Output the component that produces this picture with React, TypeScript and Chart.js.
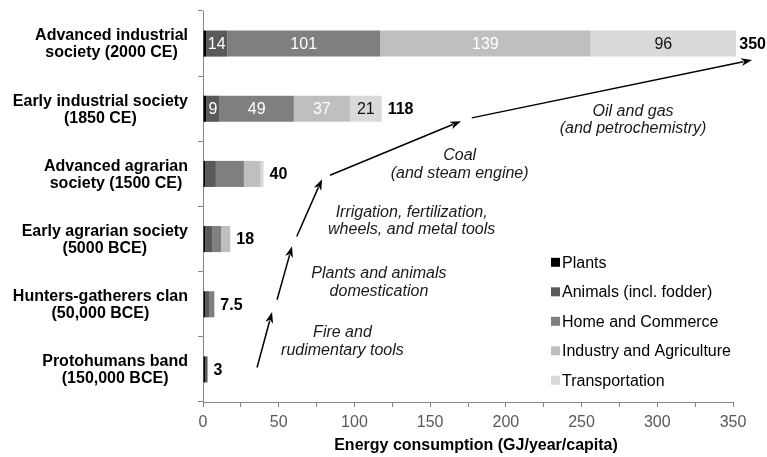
import React, { useEffect, useRef } from "react";
import { Chart, registerables } from "chart.js";

Chart.register(...registerables);

const FONT = "'Liberation Sans', Arial, Helvetica, sans-serif";

const categories: string[][] = [
  ["Advanced industrial", "society (2000 CE)"],
  ["Early industrial society", "(1850 CE)"],
  ["Advanced agrarian", "society (1500 CE)"],
  ["Early agrarian society", "(5000 BCE)"],
  ["Hunters-gatherers clan", "(50,000 BCE)"],
  ["Protohumans band", "(150,000 BCE)"],
];

const seriesNames = [
  "Plants",
  "Animals (incl. fodder)",
  "Home and Commerce",
  "Industry and Agriculture",
  "Transportation",
];
const seriesColors = ["#000000", "#595959", "#7f7f7f", "#bfbfbf", "#d9d9d9"];
const segLabelColors = ["#ffffff", "#ffffff", "#ffffff", "#ffffff", "#111111"];

const plants = [2, 2, 1.5, 1.5, 1.5, 1.5];
const animals = [14, 9, 7, 4.5, 2.5, 1.5];
const home = [101, 49, 18.5, 6, 3.5, 0];
const industry = [139, 37, 11, 6, 0, 0];
const transport = [96, 21, 2, 0, 0, 0];
const totals = ["350", "118", "40", "18", "7.5", "3"];
const labeledRows = [0, 1];

const xMin = 0;
const xMax = 350;
const xStep = 25;
const xLabelStep = 50;
const xTitle = "Energy consumption (GJ/year/capita)";

// arrows: [x1, row1, x2, row2] in data units (x value, category index)
const arrows: number[][] = [
  [35.7, 4.97, 45.6, 4.12],
  [48.9, 3.93, 58.8, 3.11],
  [61.9, 2.96, 78.6, 2.08],
  [83.9, 2.02, 170.4, 1.19],
  [177.5, 1.14, 362.6, 0.25],
];

const noteTexts: string[][] = [
  ["Fire and", "rudimentary tools"],
  ["Plants and animals", "domestication"],
  ["Irrigation, fertilization,", "wheels, and metal tools"],
  ["Coal", "(and steam engine)"],
  ["Oil and gas", "(and petrochemistry)"],
];
const noteX = [92.1, 116.2, 137.8, 169.5, 284];
const noteRow = [4.56, 3.65, 2.71, 1.84, 1.16];

const seriesData = [plants, animals, home, industry, transport];

const overlayPlugin = {
  id: "overlay",
  afterDatasetsDraw(chart: any) {
    const ctx: CanvasRenderingContext2D = chart.ctx;
    const xs = chart.scales.x;
    const ys = chart.scales.y;
    const area = chart.chartArea;
    ctx.save();

    // y category labels
    ctx.font = `bold 16px ${FONT}`;
    ctx.fillStyle = "#000";
    ctx.textBaseline = "middle";
    ctx.textAlign = "center";
    const labelRight = area.left - 15;
    categories.forEach((lines, i) => {
      const yc = ys.getPixelForValue(i);
      const widest = Math.max(...lines.map((l) => ctx.measureText(l).width));
      const cx = labelRight - widest / 2;
      const lh = 17;
      lines.forEach((l, k) => {
        ctx.fillText(l, cx, yc + (k - (lines.length - 1) / 2) * lh + 1);
      });
    });

    // segment value labels
    ctx.font = `16px ${FONT}`;
    labeledRows.forEach((row) => {
      let acc = 0;
      seriesData.forEach((arr, s) => {
        const v = arr[row];
        const x0 = xs.getPixelForValue(acc);
        acc += v;
        const x1 = xs.getPixelForValue(acc);
        if (s === 0 || v <= 0) return;
        ctx.fillStyle = segLabelColors[s];
        ctx.fillText(String(v), (x0 + x1) / 2, ys.getPixelForValue(row) + 1);
      });
    });

    // totals
    ctx.font = `bold 16px ${FONT}`;
    ctx.textAlign = "left";
    ctx.fillStyle = "#000";
    totals.forEach((t, row) => {
      const sum = seriesData.reduce((a, arr) => a + arr[row], 0);
      const w = ctx.measureText(t).width;
      let x = xs.getPixelForValue(sum) + 6;
      x = Math.min(x, chart.width - w - 1);
      ctx.fillText(t, x, ys.getPixelForValue(row) + 1);
    });

    // arrows
    ctx.strokeStyle = "#000";
    ctx.fillStyle = "#000";
    ctx.lineWidth = 1.5;
    arrows.forEach(([a, b, c, d]) => {
      const x1 = xs.getPixelForValue(a);
      const y1 = ys.getPixelForValue(b);
      const x2 = xs.getPixelForValue(c);
      const y2 = ys.getPixelForValue(d);
      const ang = Math.atan2(y2 - y1, x2 - x1);
      const hl = 11;
      const hw = 4;
      const bx = x2 - hl * Math.cos(ang);
      const by = y2 - hl * Math.sin(ang);
      ctx.beginPath();
      ctx.moveTo(x1, y1);
      ctx.lineTo(bx + 2 * Math.cos(ang), by + 2 * Math.sin(ang));
      ctx.stroke();
      ctx.beginPath();
      ctx.moveTo(x2, y2);
      ctx.lineTo(bx + hw * Math.sin(ang), by - hw * Math.cos(ang));
      ctx.lineTo(bx + 3 * Math.cos(ang), by + 3 * Math.sin(ang));
      ctx.lineTo(bx - hw * Math.sin(ang), by + hw * Math.cos(ang));
      ctx.closePath();
      ctx.fill();
    });

    // notes
    ctx.font = `italic 16px ${FONT}`;
    ctx.fillStyle = "#1a1a1a";
    ctx.textAlign = "center";
    noteTexts.forEach((lines, i) => {
      const cx = xs.getPixelForValue(noteX[i]);
      const cy = ys.getPixelForValue(noteRow[i]);
      const lh = 17.5;
      lines.forEach((l, k) => {
        ctx.fillText(l, cx, cy + (k - (lines.length - 1) / 2) * lh + 1);
      });
    });

    // legend
    ctx.font = `16px ${FONT}`;
    ctx.textAlign = "left";
    const lx = area.left + 348;
    const ly = area.top + 251.3;
    seriesNames.forEach((n, i) => {
      const y = ly + i * 29.5;
      ctx.fillStyle = seriesColors[i];
      ctx.fillRect(lx, y - 4.5, 9, 9);
      ctx.fillStyle = "#000";
      ctx.fillText(n, lx + 11, y + 1);
    });

    // x title
    ctx.font = `bold 16px ${FONT}`;
    ctx.textAlign = "center";
    ctx.fillStyle = "#000";
    ctx.fillText(xTitle, (area.left + area.right) / 2 + 8, area.bottom + 44);

    ctx.restore();
  },
};

export default function App() {
  const ref = useRef<HTMLCanvasElement | null>(null);
  useEffect(() => {
    document.body.style.margin = "0";
    document.body.style.overflow = "hidden";
    const canvas = ref.current;
    if (!canvas) return;
    const chart = new Chart(canvas, {
      type: "bar",
      data: {
        labels: categories.map((c) => c.join(" ")),
        datasets: seriesNames.map((name, i) => ({
          label: name,
          data: seriesData[i],
          backgroundColor: seriesColors[i],
          borderWidth: 0,
          barPercentage: 0.4,
          categoryPercentage: 1,
          clip: false as any,
        })),
      },
      options: {
        indexAxis: "y",
        animation: false,
        responsive: true,
        maintainAspectRatio: false,
        devicePixelRatio: 1,
        layout: { padding: { top: 11, right: 34, left: 0, bottom: 0 } },
        plugins: { legend: { display: false }, tooltip: { enabled: false } },
        scales: {
          x: {
            stacked: true,
            min: xMin,
            max: xMax,
            ticks: {
              stepSize: xStep,
              autoSkip: false,
              maxRotation: 0,
              color: "#595959",
              font: { size: 16, family: FONT },
              padding: 6,
              callback: (v: any) => (Number(v) % xLabelStep === 0 ? String(v) : ""),
            },
            grid: { drawOnChartArea: false, drawTicks: true, tickLength: 5, color: "#868686" },
            border: { color: "#868686", width: 1 },
            afterFit: (s: any) => {
              s.height = 55;
            },
          },
          y: {
            stacked: true,
            ticks: { display: false },
            grid: { drawOnChartArea: false, drawTicks: true, tickLength: 5, color: "#868686", offset: true },
            border: { color: "#868686", width: 1 },
            afterFit: (s: any) => {
              s.width = 203;
            },
          },
        },
      } as any,
      plugins: [overlayPlugin],
    });
    return () => chart.destroy();
  }, []);
  return (
    <div style={{ position: "relative", width: 767, height: 457 }}>
      <canvas ref={ref} />
    </div>
  );
}
